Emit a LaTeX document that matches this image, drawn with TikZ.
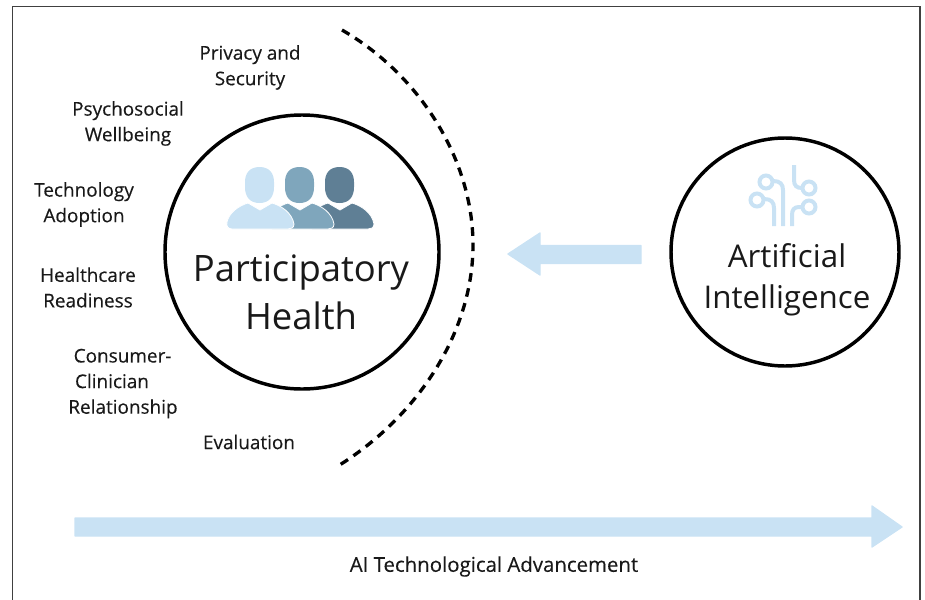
\documentclass[tikz,border=0pt]{standalone}
\usepackage{fontspec}
\setmainfont{Open Sans}
\newfontfamily\heavier[FakeBold=0.25]{Open Sans}
\definecolor{lightb}{HTML}{C9E2F4}
\definecolor{midb}{HTML}{7FA6BC}
\definecolor{darkb}{HTML}{5F7F95}
\newcommand{\fs}[1]{\fontsize{#1}{#1}\selectfont}
\newcommand{\personicon}[2]{%
  \begin{scope}[shift={(#1,0)}]
    \fill[#2] (259.5,167) .. controls (249,167) and (245,174) .. (245,182) -- (245,187) .. controls (245,197) and (250,203) .. (259.5,203) .. controls (269,203) and (274,197) .. (274,187) -- (274,182) .. controls (274,174) and (270,167) .. (259.5,167) -- cycle;
    \fill[#2,draw=white,line width=0.6pt] (227,222) .. controls (229,213) and (238,206) .. (248,203) -- (260,210) -- (272,203) .. controls (282,206) and (292,213) .. (294,224) .. controls (294,228) and (291,229) .. (288,229) -- (232,229) .. controls (228,229) and (226,226) .. (227,222) -- cycle;
  \end{scope}}
\tikzset{
  frameline/.style={draw=black!75,line width=1.4pt},
  ring/.style={circle,draw=black,line width=2.6pt,inner sep=0pt},
  lab/.style={align=center,text=black!90,font=\heavier\fs{14.2},inner sep=0pt},
  biglab/.style={align=center,text=black!90,font=\fs{27.3},inner sep=0pt},
  blockarrow/.style={fill=lightb,draw=lightb,line width=1pt,line join=round},
  chip/.style={draw=lightb,line width=3pt}
}
\begin{document}
\begin{tikzpicture}[x=0.75pt,y=-0.75pt]
\useasboundingbox (0,0) rectangle (925,600);
\draw[frameline] (12.5,600) -- (12.5,6.5) -- (920,6.5) -- (920,600);
\node[ring,minimum size=205.5pt] (ph) at (302,252) {};
\node[ring,minimum size=171pt] (ai) at (785,252) {};
% people
\personicon{80}{darkb}
\personicon{40}{midb}
\personicon{0}{lightb}
\node[biglab] (phl) at (301,292.5) {Participatory\\[8.25pt]Health};
\node[biglab,font=\fs{23.5}] (ail) at (787,280) {Artificial\\[7pt]Intelligence};
% chip icon
\draw[chip] (794,165) -- (794,180) .. controls (794,186) and (797,188) .. (802,188);
\draw[chip] (809,188) circle (6.5);
\draw[chip] (802,207) -- (799,207) .. controls (794,207) and (792,210) .. (792,215) -- (792,226);
\draw[chip] (809,207) circle (6.5);
\draw[chip] (783,226) -- (783,190) .. controls (783,184) and (780,181) .. (773,181);
\draw[chip] (766,182) circle (6.5);
\draw[chip] (774,226) -- (774,208) .. controls (774,202) and (771,199) .. (764,199);
\draw[chip] (757,200) circle (6.5);
% dashed arc
\coordinate (arcs) at (342,30);
\coordinate (arcm) at (473,245);
\coordinate (arce) at (338,466);
\draw[black,line width=2.5pt,dash pattern=on 6.5pt off 5pt] (arcs) .. controls (420,75) and (473,160) .. (arcm) .. controls (473,330) and (420,415) .. (arce);
% arrows
\fill[blockarrow] (641,245.5) -- (540,245.5) -- (540,233) -- (508,254) -- (540,275) -- (540,263.5) -- (641,263.5) -- cycle;
\fill[blockarrow] (75,518) -- (872,518) -- (872,506) -- (902,527) -- (872,547) -- (872,536) -- (75,536) -- cycle;
% labels
\node[lab] (l1) at (250,67.5) {Privacy and\\[5pt]Security};
\node[lab] (l2) at (128,123.5) {Psychosocial\\[5pt]Wellbeing};
\node[lab] (l3) at (84,204.5) {Technology\\[5pt]Adoption};
\node[lab] (l4) at (88,287.5) {Healthcare\\[5pt]Readiness};
\node[lab,align=left] (l5) at (123,383.5) {\hspace*{4pt}Consumer-\\[5pt]\hspace*{5pt}Clinician\\[5pt]Relationship};
\node[lab] (l6) at (249,442) {Evaluation};
\node[lab,font=\heavier\fs{15.3}] (l7) at (494,566.5) {AI Technological Advancement};
\end{tikzpicture}
\end{document}
